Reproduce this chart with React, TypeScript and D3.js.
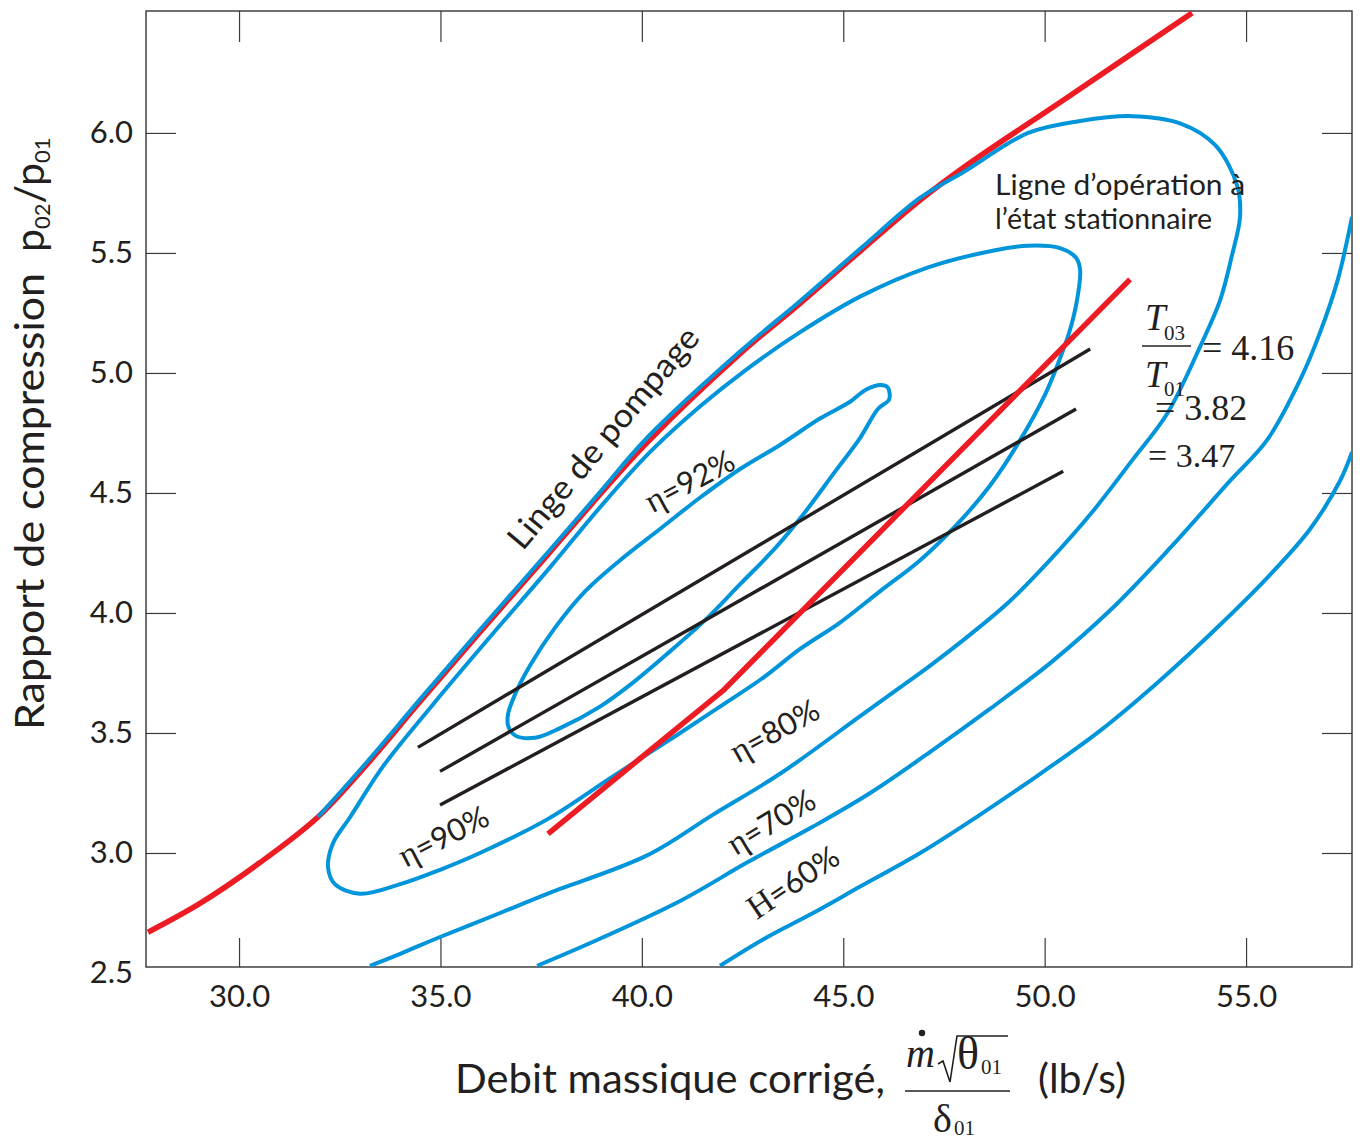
import React, { useEffect, useRef } from "react";
import * as d3 from "d3";

type Pt = [number, number];

const xTicks = [30, 35, 40, 45, 50, 55];
const yTicks = [2.5, 3.0, 3.5, 4.0, 4.5, 5.0, 5.5, 6.0];
const xDomain: Pt = [27.69, 57.63];
const yDomain: Pt = [2.525, 6.508];

// ligne de pompage
const surgeLine: Pt[] = [
  [27.74, 2.67], [29.03, 2.79], [30.52, 2.96], [31.96, 3.15], [33.18, 3.37],
  [34.49, 3.63], [35.98, 3.92], [37.65, 4.24], [38.89, 4.48], [40.13, 4.71],
  [42.44, 5.08], [43.93, 5.29], [45.44, 5.51], [46.91, 5.72], [48.02, 5.86],
  [50.58, 6.15], [53.66, 6.50],
];

// ligne d'operation a l'etat stationnaire
const operatingLine: Pt[] = [[37.67, 3.08], [42.04, 3.68], [52.12, 5.39]];

// T03/T01 constant
const tempRatios = ["4.16", "3.82", "3.47"];
const tempLines: Pt[][] = [
  [[34.44, 3.44], [51.13, 5.10]],
  [[34.99, 3.34], [50.78, 4.85]],
  [[34.99, 3.20], [50.46, 4.59]],
];

// rendement isentropique
const effLabels = ["η=92%", "η=90%", "η=80%", "η=70%", "H=60%"];

const eff92: Pt[] = [
  [36.68, 3.53], [36.85, 3.49], [37.35, 3.48], [37.97, 3.52], [38.96, 3.61],
  [39.78, 3.71], [40.70, 3.84], [41.57, 3.97], [42.44, 4.12], [43.31, 4.27],
  [44.05, 4.42], [44.80, 4.59], [45.42, 4.73], [45.86, 4.85], [46.14, 4.89],
  [46.10, 4.94], [45.93, 4.95], [45.56, 4.93], [45.17, 4.88], [44.42, 4.81],
  [43.43, 4.70], [42.44, 4.60], [41.44, 4.48], [40.45, 4.35], [39.46, 4.22],
  [38.59, 4.09], [37.85, 3.94], [37.22, 3.78], [36.85, 3.66], [36.68, 3.58],
];

const eff90: Pt[] = [
  [32.21, 2.94], [32.33, 3.04], [32.76, 3.15], [33.57, 3.36], [34.82, 3.62],
  [36.23, 3.90], [37.72, 4.19], [38.96, 4.44], [40.20, 4.67], [41.44, 4.86],
  [42.56, 5.01], [43.93, 5.17], [45.44, 5.32], [47.11, 5.44], [48.74, 5.51],
  [49.59, 5.53], [50.38, 5.52], [50.78, 5.48], [50.88, 5.43], [50.80, 5.30],
  [50.63, 5.18], [50.38, 5.06], [50.01, 4.91], [49.39, 4.72], [48.64, 4.53],
  [47.83, 4.37], [46.91, 4.22], [45.91, 4.09], [44.92, 3.96], [43.93, 3.85],
  [43.01, 3.73], [41.94, 3.61], [40.95, 3.50], [39.29, 3.32], [37.65, 3.14],
  [35.98, 3.00], [34.99, 2.93], [34.00, 2.87], [33.00, 2.83], [32.38, 2.87],
];

const eff80: Pt[] = [
  [31.96, 3.15], [33.18, 3.38], [34.49, 3.64], [35.98, 3.93], [37.65, 4.25],
  [38.89, 4.49], [40.13, 4.73], [42.44, 5.09], [43.93, 5.30], [45.44, 5.52],
  [46.91, 5.73], [48.02, 5.84], [49.59, 6.00], [50.88, 6.05], [52.17, 6.07],
  [53.36, 6.04], [54.23, 5.95], [54.78, 5.78], [54.85, 5.65], [54.65, 5.49],
  [54.35, 5.30], [53.86, 5.11], [53.04, 4.83], [52.19, 4.64], [51.13, 4.41],
  [50.13, 4.22], [49.14, 4.05], [48.15, 3.91], [47.15, 3.78], [46.41, 3.69],
  [45.42, 3.57], [43.43, 3.33], [41.77, 3.16], [40.13, 2.99], [37.65, 2.83],
  [36.48, 2.75], [34.99, 2.65], [34.00, 2.58], [33.25, 2.53],
];

const eff70: Pt[] = [
  [37.40, 2.53], [38.79, 2.63], [40.95, 2.80], [42.61, 2.96], [44.25, 3.11],
  [45.67, 3.25], [47.15, 3.42], [48.64, 3.60], [50.13, 3.79], [51.62, 4.01],
  [53.11, 4.27], [54.60, 4.55], [55.52, 4.72], [56.34, 4.97], [56.84, 5.17],
  [57.28, 5.39], [57.63, 5.65],
];

const eff60: Pt[] = [
  [41.94, 2.53], [43.01, 2.64], [44.25, 2.75], [45.42, 2.86], [46.91, 3.00],
  [48.40, 3.16], [49.89, 3.33], [51.38, 3.51], [52.87, 3.72], [54.35, 3.95],
  [55.60, 4.16], [56.59, 4.35], [57.33, 4.55], [57.63, 4.67],
];

export default function App() {
  const ref = useRef<SVGSVGElement>(null);

  useEffect(() => {
    const svg = d3.select(ref.current);
    svg.selectAll("*").remove();

    const ink = "#231f20";
    const red = "#ed1c24";
    const blue = "#0095da";
    const sans = "Lato, 'Open Sans', 'DejaVu Sans', sans-serif";
    const serif = "'Liberation Serif', 'DejaVu Serif', serif";
    const left = 146, right = 1352, top = 11, bottom = 967;

    const x = d3.scaleLinear().domain(xDomain).range([left, right]);
    const y = d3.scaleLinear().domain(yDomain).range([bottom, top]);

    svg.append("defs").append("clipPath").attr("id", "plotArea")
      .append("rect")
      .attr("x", left).attr("y", top)
      .attr("width", right - left).attr("height", bottom - top);

    // axes (ticks pointing inside the frame)
    const styleAxis = (g: any) => {
      g.select(".domain").remove();
      g.selectAll(".tick line").attr("stroke", "#3a3a3a").attr("stroke-width", 1.2);
      g.selectAll(".tick text")
        .attr("fill", ink)
        .style("font-family", sans)
        .style("font-size", "31px");
    };
    const fmt = d3.format(".1f");

    svg.append("g")
      .attr("transform", `translate(0,${bottom})`)
      .call(d3.axisBottom(x).tickValues(xTicks).tickSize(-29).tickPadding(18).tickFormat(fmt as any))
      .call(styleAxis);

    const gy = svg.append("g")
      .attr("transform", `translate(${left},0)`)
      .call(d3.axisLeft(y).tickValues(yTicks).tickSize(-30).tickPadding(13).tickFormat(fmt as any))
      .call(styleAxis);
    gy.selectAll(".tick").filter((d: any) => d < yDomain[0]).select("line").remove();

    svg.append("g")
      .attr("transform", `translate(0,${top})`)
      .call(d3.axisTop(x).tickValues(xTicks).tickSize(-31).tickFormat(() => ""))
      .call(styleAxis);

    svg.append("g")
      .attr("transform", `translate(${right},0)`)
      .call(d3.axisRight(y).tickValues(yTicks.filter((v) => v >= yDomain[0])).tickSize(-30).tickFormat(() => ""))
      .call(styleAxis);

    svg.append("rect")
      .attr("x", left).attr("y", top)
      .attr("width", right - left).attr("height", bottom - top)
      .attr("fill", "none").attr("stroke", "#333").attr("stroke-width", 1.4);

    // curves
    const plot = svg.append("g").attr("clip-path", "url(#plotArea)");
    const smooth = d3.line<Pt>().x((d) => x(d[0])).y((d) => y(d[1])).curve(d3.curveCatmullRom.alpha(0.5));
    const loop = d3.line<Pt>().x((d) => x(d[0])).y((d) => y(d[1])).curve(d3.curveCatmullRomClosed.alpha(0.5));
    const straight = d3.line<Pt>().x((d) => x(d[0])).y((d) => y(d[1]));

    plot.append("path")
      .attr("d", smooth(surgeLine))
      .attr("fill", "none").attr("stroke", red).attr("stroke-width", 5.5);

    [eff92, eff90].forEach((c) => {
      plot.append("path").attr("d", loop(c))
        .attr("fill", "none").attr("stroke", blue).attr("stroke-width", 4);
    });
    [eff80, eff70, eff60].forEach((c) => {
      plot.append("path").attr("d", smooth(c))
        .attr("fill", "none").attr("stroke", blue).attr("stroke-width", 4);
    });

    tempLines.forEach((l) => {
      plot.append("path").attr("d", straight(l))
        .attr("fill", "none").attr("stroke", ink).attr("stroke-width", 3.4);
    });

    plot.append("path")
      .attr("d", straight(operatingLine))
      .attr("fill", "none").attr("stroke", red).attr("stroke-width", 5.5);

    // efficiency labels
    const labelPlace = [
      { at: [41.25, 4.53], rot: -28 },
      { at: [35.14, 3.05], rot: -27 },
      { at: [43.36, 3.49], rot: -29 },
      { at: [43.28, 3.11], rot: -31 },
      { at: [43.83, 2.86], rot: -34 },
    ];
    effLabels.forEach((lab, i) => {
      const p = labelPlace[i];
      const t = svg.append("text")
        .attr("transform", `translate(${x(p.at[0])},${y(p.at[1])}) rotate(${p.rot})`)
        .attr("text-anchor", "middle").attr("dy", "0.35em").attr("fill", ink);
      t.append("tspan").style("font-family", serif).style("font-size", "34px").text(lab[0]);
      t.append("tspan").style("font-family", sans).style("font-size", "31px").text(lab.slice(1));
    });

    // surge line label
    svg.append("text")
      .attr("transform", `translate(${x(39.04)},${y(4.73)}) rotate(-50)`)
      .attr("text-anchor", "middle").attr("dy", "0.35em")
      .attr("textLength", 278).attr("lengthAdjust", "spacingAndGlyphs")
      .style("font-family", sans).style("font-size", "33px").attr("fill", ink)
      .text("Linge de pompage");

    // operating line label
    svg.append("text")
      .attr("x", x(48.77)).attr("y", y(5.74))
      .attr("textLength", 250).attr("lengthAdjust", "spacingAndGlyphs")
      .style("font-family", sans).style("font-size", "28px").attr("fill", ink)
      .text("Ligne d\u2019opération à");
    svg.append("text")
      .attr("x", x(48.77)).attr("y", y(5.60))
      .attr("textLength", 217).attr("lengthAdjust", "spacingAndGlyphs")
      .style("font-family", sans).style("font-size", "28px").attr("fill", ink)
      .text("l\u2019état stationnaire");

    // T03/T01 annotation
    const ta = svg.append("g").style("font-family", serif).attr("fill", ink);
    const tt = (px: number, py: number, s: number, txt: string, italic = false) =>
      ta.append("text").attr("x", px).attr("y", py).style("font-size", `${s}px`)
        .style("font-style", italic ? "italic" : "normal").text(txt);
    tt(1145, 330, 37, "T", true);
    tt(1164, 340, 21, "03");
    ta.append("line").attr("x1", 1142).attr("x2", 1191).attr("y1", 346).attr("y2", 346)
      .attr("stroke", ink).attr("stroke-width", 1.6);
    tt(1145, 387, 37, "T", true);
    tt(1164, 396, 21, "01");
    tt(1202, 360, 36, `= ${tempRatios[0]}`);
    tt(1155, 420, 36, `= ${tempRatios[1]}`);
    tt(1148, 467, 34, `= ${tempRatios[2]}`);

    // y axis title
    svg.append("text")
      .attr("transform", "translate(44,730) rotate(-90)")
      .attr("textLength", 457).attr("lengthAdjust", "spacingAndGlyphs")
      .style("font-family", sans).style("font-size", "41px").attr("fill", ink)
      .text("Rapport de compression");
    const yt = svg.append("text")
      .attr("transform", "translate(44,252) rotate(-90)")
      .style("font-family", sans).attr("fill", ink);
    yt.append("tspan").style("font-size", "41px").text("p");
    yt.append("tspan").style("font-size", "22px").attr("dy", 6).text("02");
    yt.append("tspan").style("font-size", "41px").attr("dy", -6).text("/p");
    yt.append("tspan").style("font-size", "22px").attr("dy", 6).text("01");

    // x axis title
    svg.append("text")
      .attr("x", 455).attr("y", 1093)
      .attr("textLength", 430).attr("lengthAdjust", "spacingAndGlyphs")
      .style("font-family", sans).style("font-size", "41px").attr("fill", ink)
      .text("Debit massique corrigé,");
    const fr = svg.append("g").style("font-family", serif).attr("fill", ink);
    fr.append("text").attr("x", 906).attr("y", 1067).style("font-size", "40px")
      .style("font-style", "italic").text("m");
    fr.append("circle").attr("cx", 922).attr("cy", 1033).attr("r", 3.2);
    fr.append("path").attr("d", "M938,1064 L943,1061 L950,1082 L957,1036 L1008,1036")
      .attr("fill", "none").attr("stroke", ink).attr("stroke-width", 1.6);
    fr.append("text").attr("x", 957).attr("y", 1069).style("font-size", "46px").text("θ");
    fr.append("text").attr("x", 981).attr("y", 1074).style("font-size", "21px").text("01");
    fr.append("line").attr("x1", 905).attr("x2", 1010).attr("y1", 1091).attr("y2", 1091)
      .attr("stroke", ink).attr("stroke-width", 1.6);
    fr.append("text").attr("x", 933).attr("y", 1132).style("font-size", "40px").text("δ");
    fr.append("text").attr("x", 954).attr("y", 1135).style("font-size", "21px").text("01");
    svg.append("text")
      .attr("x", 1038).attr("y", 1093)
      .style("font-family", sans).style("font-size", "41px").attr("fill", ink)
      .text("(lb/s)");
  }, []);

  return (
    <svg
      ref={ref}
      width={1361}
      height={1140}
      style={{ position: "absolute", left: 0, top: 0, background: "#fff" }}
    />
  );
}
